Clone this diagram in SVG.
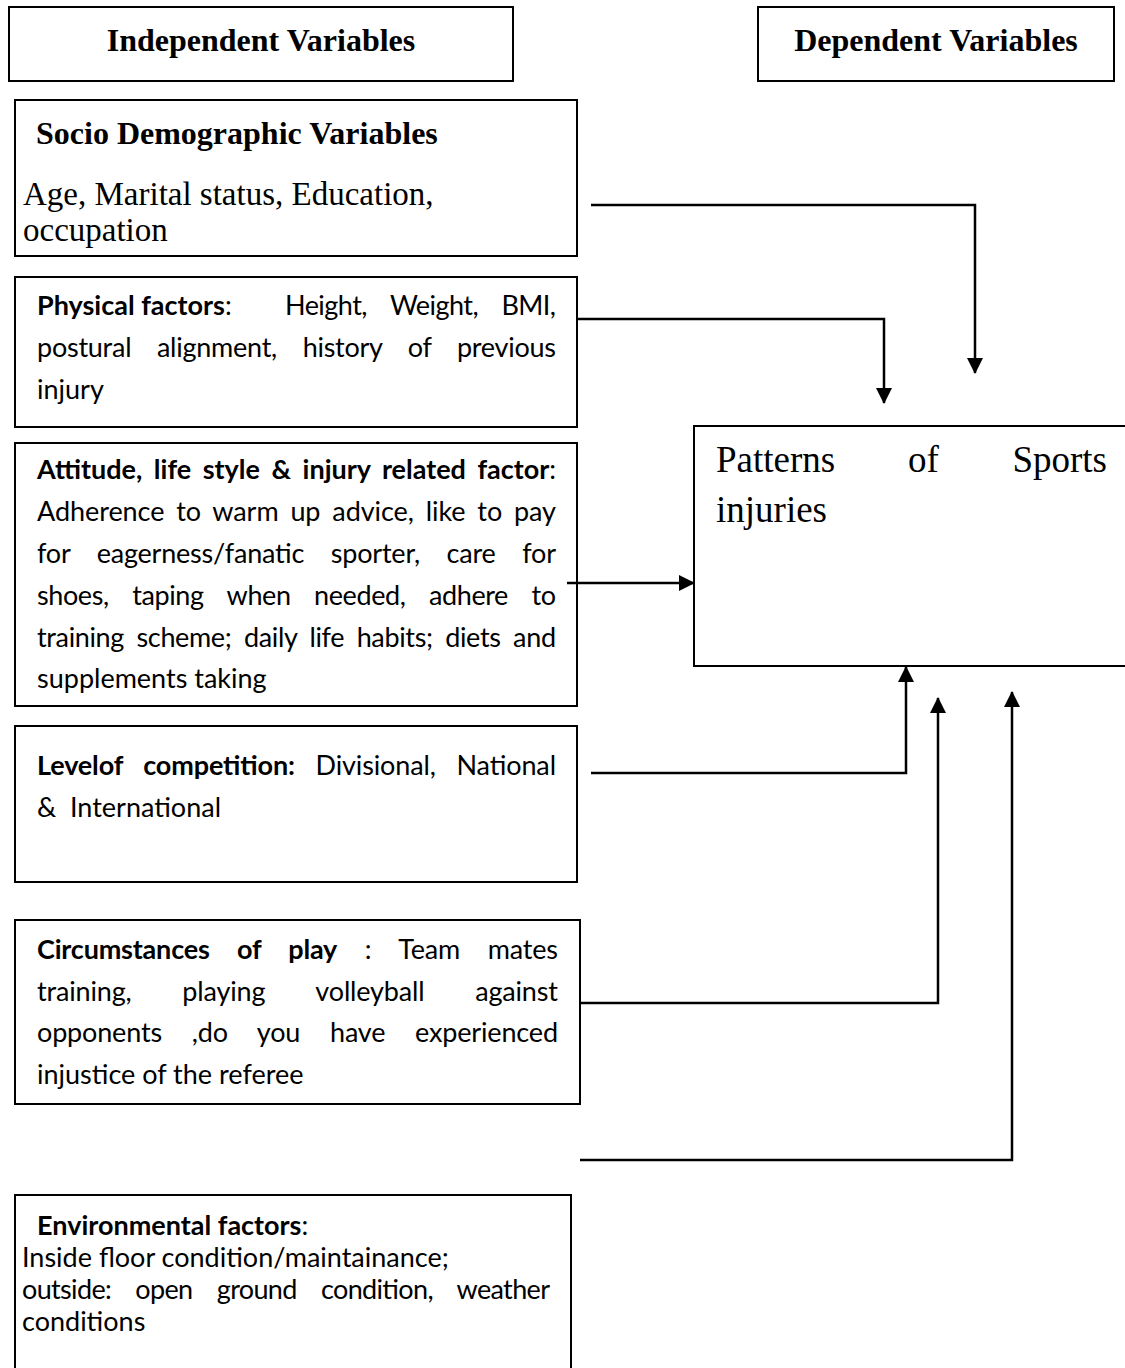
<svg xmlns="http://www.w3.org/2000/svg" width="1125" height="1368" viewBox="0 0 1125 1368">
<style>
.box{fill:#fff;stroke:#000;stroke-width:2}
.hd{font-family:"Liberation Serif","Times New Roman",serif;font-weight:bold;font-size:32px;fill:#000}
.tr{font-family:"Liberation Serif","Times New Roman",serif;font-size:33px;fill:#000}
.tb{font-family:"Liberation Serif","Times New Roman",serif;font-size:32px;font-weight:bold;fill:#000}
.pt{font-family:"Liberation Serif","Times New Roman",serif;font-size:37px;fill:#000}
.b{font-family:Lato,"Open Sans",sans-serif;font-size:27px;fill:#000}
.bb{font-weight:bold}
.e{text-anchor:end}
.c{text-anchor:middle}
.ln{fill:none;stroke:#000;stroke-width:2.5}
</style>
<defs>
<marker id="arr" viewBox="0 0 16 16" markerWidth="16" markerHeight="16" refX="15" refY="8" orient="auto" markerUnits="userSpaceOnUse">
<path d="M0,0 L16,8 L0,16 Z" fill="#000"/>
</marker>
</defs>

<g id="independent-header">
<rect class="box" x="9" y="7" width="504" height="74"/>
<text class="hd c" x="261" y="51">Independent Variables</text>
</g>
<g id="dependent-header">
<rect class="box" x="758" y="7" width="356" height="74"/>
<text class="hd c" x="936" y="51">Dependent Variables</text>
</g>

<g id="socio">
<rect class="box" x="15" y="100" width="562" height="156"/>
<text class="tb" x="36" y="144">Socio Demographic Variables</text>
<text class="tr" x="23" y="205">Age, Marital status, Education,</text>
<text class="tr" x="23" y="241">occupation</text>
</g>

<g id="physical">
<rect class="box" x="15" y="277" width="562" height="150"/>
<text class="b" x="37" y="315"><tspan class="bb">Physical factors</tspan>:</text>
<text class="b" x="285" y="315" textLength="271" lengthAdjust="spacing" style="word-spacing:17px">Height, Weight, BMI,</text>
<text class="b" x="37" y="357" textLength="519" lengthAdjust="spacing" style="word-spacing:19px">postural alignment, history of previous</text>
<text class="b" x="37" y="399">injury</text>
</g>

<g id="attitude">
<rect class="box" x="15" y="443" width="562" height="263"/>
<text class="b" x="37" y="479" textLength="519" lengthAdjust="spacing" style="word-spacing:5px"><tspan class="bb">Attitude, life style &amp; injury related factor</tspan>:</text>
<text class="b" x="37" y="521" textLength="519" lengthAdjust="spacing" style="word-spacing:5px">Adherence to warm up advice, like to pay</text>
<text class="b" x="37" y="563" textLength="519" lengthAdjust="spacing" style="word-spacing:20px">for eagerness/fanatic sporter, care for</text>
<text class="b" x="37" y="605" textLength="519" lengthAdjust="spacing" style="word-spacing:17px">shoes, taping when needed, adhere to</text>
<text class="b" x="37" y="647" textLength="519" lengthAdjust="spacing" style="word-spacing:6px">training scheme; daily life habits; diets and</text>
<text class="b" x="37" y="688">supplements taking</text>
</g>

<g id="level">
<rect class="box" x="15" y="726" width="562" height="156"/>
<text class="b" x="37" y="775" textLength="519" lengthAdjust="spacing" style="word-spacing:14px"><tspan class="bb">Levelof competition:</tspan> Divisional, National</text>
<text class="b" y="817"><tspan x="37">&amp;</tspan><tspan x="70">International</tspan></text>
</g>

<g id="circumstances">
<rect class="box" x="15" y="920" width="565" height="184"/>
<text class="b" x="37" y="959" textLength="521" lengthAdjust="spacing" style="word-spacing:21px"><tspan class="bb">Circumstances of play</tspan> : Team mates</text>
<text class="b" x="37" y="1001" textLength="521" lengthAdjust="spacing" style="word-spacing:44px">training, playing volleyball against</text>
<text class="b" x="37" y="1042" textLength="521" lengthAdjust="spacing" style="word-spacing:23px">opponents ,do you have experienced</text>
<text class="b" x="37" y="1084">injustice of the referee</text>
</g>

<g id="environmental">
<rect class="box" x="15" y="1195" width="556" height="185"/>
<text class="b" x="37" y="1235"><tspan class="bb">Environmental factors</tspan>:</text>
<text class="b" x="22" y="1267">Inside floor condition/maintainance;</text>
<text class="b" x="22" y="1299" textLength="528" lengthAdjust="spacing" style="word-spacing:18px">outside: open ground condition, weather</text>
<text class="b" x="22" y="1331">conditions</text>
</g>

<g id="patterns">
<rect class="box" x="694" y="426" width="440" height="240"/>
<text class="pt" x="716" y="472">Patterns</text>
<text class="pt" x="908" y="472">of</text>
<text class="pt e" x="1107" y="472">Sports</text>
<text class="pt" x="716" y="522">injuries</text>
</g>

<g id="connectors">
<polyline class="ln" points="591,205 975,205 975,373" marker-end="url(#arr)"/>
<polyline class="ln" points="577,319 884,319 884,403" marker-end="url(#arr)"/>
<polyline class="ln" points="567,583 694,583" marker-end="url(#arr)"/>
<polyline class="ln" points="591,773 906,773 906,667" marker-end="url(#arr)"/>
<polyline class="ln" points="580,1003 938,1003 938,698" marker-end="url(#arr)"/>
<polyline class="ln" points="580,1160 1012,1160 1012,692" marker-end="url(#arr)"/>
</g>
</svg>
